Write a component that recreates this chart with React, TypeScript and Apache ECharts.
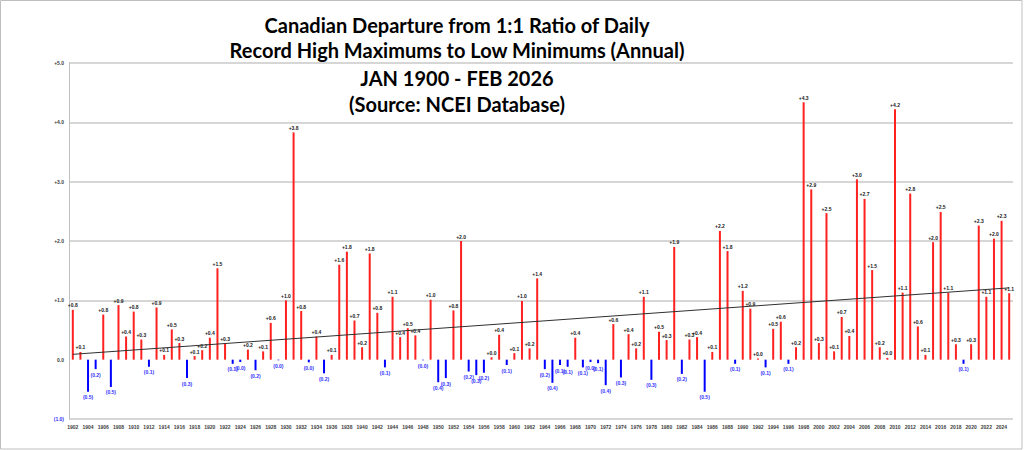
import React, { useEffect, useRef } from "react";
import * as echarts from "echarts";

const years: string[] = [];
for (let y = 1902; y <= 2025; y++) years.push(String(y));

// Departure values, 1902..2025
const values: number[] = [
  0.84, 0.13, -0.54, -0.16, 0.76, -0.46, 0.92, 0.39, 0.81, 0.34, // 1902-1911
  -0.12, 0.88, 0.08, 0.51, 0.28, -0.31, 0.06, 0.16, 0.37, 1.54, // 1912-1921
  0.27, -0.07, -0.04, 0.17, -0.18, 0.14, 0.62, -0.01, 1.0, 3.83, // 1922-1931
  0.82, -0.045, 0.39, -0.23, 0.08, 1.6, 1.82, 0.66, 0.21, 1.79, // 1932-1941
  0.79, -0.13, 1.06, 0.38, 0.53, 0.41, -0.01, 1.01, -0.38, -0.31, // 1942-1951
  0.83, 2.0, -0.2, -0.26, -0.22, 0.04, 0.42, -0.09, 0.11, 0.99, // 1952-1961
  0.19, 1.37, -0.16, -0.39, -0.09, -0.12, 0.37, -0.13, -0.04, -0.06, // 1962-1971
  -0.43, 0.6, -0.3, 0.43, 0.19, 1.06, -0.34, 0.47, 0.33, 1.9, // 1972-1981
  -0.24, 0.34, 0.38, -0.54, 0.13, 2.17, 1.83, -0.07, 1.16, 0.86, // 1982-1991
  0.02, -0.13, 0.52, 0.64, -0.07, 0.21, 4.34, 2.87, 0.28, 2.47, // 1992-2001
  0.14, 0.72, 0.4, 3.04, 2.71, 1.51, 0.21, 0.03, 4.22, 1.13, // 2002-2011
  2.8, 0.56, 0.08, 1.98, 2.49, 1.13, 0.26, -0.07, 0.26, 2.26, // 2012-2021
  1.06, 2.04, 2.34, 1.12 // 2022-2025
];

const trendYears: string[] = ["1902", "2025"];
const trendValues: number[] = [0.09, 1.21];

const titleLines: string[] = [
  "Canadian Departure from 1:1 Ratio of Daily",
  "Record High Maximums to Low Minimums (Annual)",
  "JAN 1900 - FEB 2026",
  "(Source: NCEI Database)"
];

const yTicks = { min: -1, max: 5, interval: 1 };

export default function App() {
  const ref = useRef<HTMLDivElement>(null);
  useEffect(() => {
    if (!ref.current) return;
    const chart = echarts.init(ref.current, null, { renderer: "svg" });
    const posData = values.map((v) => (v >= 0 ? v : "-"));
    const negData = values.map((v) => (v < 0 ? v : "-"));
    const trendData = years.map((y) => {
      const i = trendYears.indexOf(y);
      return i >= 0 ? trendValues[i] : null;
    });
    const labelFont = "'Liberation Sans', Arial, sans-serif";
    const titleTops = [10, 35, 63, 89];
    chart.setOption({
      animation: false,
      backgroundColor: "#ffffff",
      title: titleLines.map((t, i) => ({
        text: t,
        left: 452,
        top: titleTops[i],
        textAlign: "center",
        textStyle: {
          fontFamily: "Lato, 'DejaVu Sans Condensed', sans-serif",
          fontWeight: "bold",
          fontSize: 20,
          color: "#000000"
        }
      })),
      graphic: [
        {
          type: "rect",
          shape: { x: 0.5, y: 0.5, width: 1021.5, height: 448.5 },
          style: { fill: "none", stroke: "#bfbfbf", lineWidth: 1 },
          silent: true,
          z: -1
        }
      ],
      grid: { left: 69, right: 11, top: 63, bottom: 31, containLabel: false },
      xAxis: {
        type: "category",
        data: years,
        boundaryGap: true,
        axisLine: { show: false, onZero: false },
        axisTick: { show: false },
        splitLine: { show: false },
        axisLabel: {
          interval: 1,
          margin: 5,
          fontSize: 5,
          fontWeight: "bold",
          fontFamily: labelFont,
          color: "#404040"
        }
      },
      yAxis: {
        type: "value",
        min: yTicks.min,
        max: yTicks.max,
        interval: yTicks.interval,
        axisLine: { show: true, lineStyle: { color: "#bfbfbf", width: 1 } },
        axisTick: { show: false },
        splitLine: {
          show: true,
          lineStyle: {
            color: ["#c8c8c8", "rgba(0,0,0,0)", "#c8c8c8", "#c8c8c8", "#c8c8c8", "#c8c8c8", "#c8c8c8"],
            width: 1.5
          }
        },
        axisLabel: {
          margin: 5,
          fontSize: 5,
          fontWeight: "bold",
          fontFamily: labelFont,
          formatter: (v: number) =>
            v > 0 ? `{p|+${v.toFixed(1)}}` : v < 0 ? `{n|(${Math.abs(v).toFixed(1)})}` : `{p|0.0}`,
          rich: {
            p: { fontSize: 5, fontWeight: "bold", fontFamily: labelFont, color: "#404040" },
            n: { fontSize: 5, fontWeight: "bold", fontFamily: labelFont, color: "#3333ff" }
          }
        }
      },
      series: [
        {
          type: "bar",
          data: posData,
          barWidth: 2,
          barGap: "-100%",
          itemStyle: { color: "#ff2020" },
          label: {
            show: true,
            position: "top",
            distance: 2,
            fontSize: 5,
            fontWeight: "bold",
            fontFamily: labelFont,
            color: "#202020",
            formatter: (p: any) => `+${Number(p.value).toFixed(1)}`
          },
          z: 2
        },
        {
          type: "bar",
          data: negData,
          barWidth: 2,
          barGap: "-100%",
          itemStyle: { color: "#0000ff" },
          label: {
            show: true,
            position: "bottom",
            distance: 3,
            fontSize: 5,
            fontWeight: "bold",
            fontFamily: labelFont,
            color: "#3333ff",
            formatter: (p: any) => `(${Math.abs(Number(p.value)).toFixed(1)})`
          },
          z: 2
        },
        {
          type: "line",
          data: trendData,
          connectNulls: true,
          showSymbol: false,
          symbol: "none",
          lineStyle: { color: "#303030", width: 1 },
          z: 3,
          silent: true
        }
      ]
    });
    return () => chart.dispose();
  }, []);
  return (
    <div
      ref={ref}
      style={{ position: "absolute", left: 0, top: 0, width: 1024, height: 450 }}
    />
  );
}
